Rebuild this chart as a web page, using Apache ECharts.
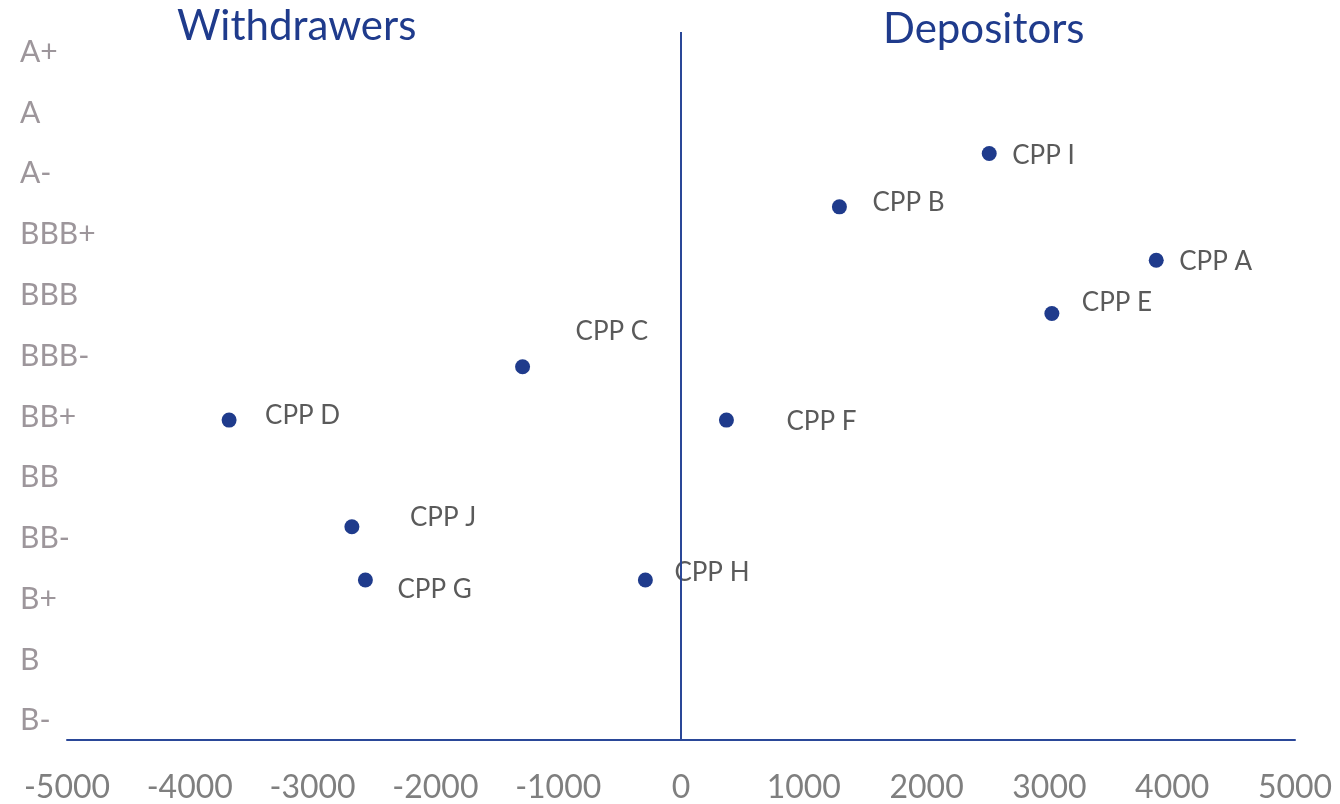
<!DOCTYPE html>
<html>
<head>
<meta charset="utf-8">
<title>Withdrawers vs Depositors</title>
<script src="https://cdn.jsdelivr.net/npm/echarts@6/dist/echarts.min.js"></script>
<style>
  html, body { margin: 0; padding: 0; background: #fff; }
  #chart { width: 1340px; height: 804px; }
</style>
</head>
<body>
<div id="chart"></div>
<script>
// plan names, net flow (x) and credit score (y)
const plans = ['CPP A', 'CPP B', 'CPP C', 'CPP D', 'CPP E', 'CPP F', 'CPP G', 'CPP H', 'CPP I', 'CPP J'];
const netFlow = [3870, 1290, -1290, -3680, 3020, 370, -2570, -290, 2510, -2680];
const creditScore = [9, 10, 7, 6, 8, 6, 3, 3, 11, 4];

// rating labels down the left side, bottom to top
const ratings = ['B-', 'B', 'B+', 'BB-', 'BB', 'BB+', 'BBB-', 'BBB', 'BBB+', 'A-', 'A', 'A+'];
const xTicks = [-5000, -4000, -3000, -2000, -1000, 0, 1000, 2000, 3000, 4000, 5000];

// label nudges (px) copied from the manually placed Excel labels
const labelNudge = [[23, 1], [33, -4], [53, -35], [36, -5], [30, -11], [60, 1], [32, 10], [29, -7], [23, 2], [58, -9]];

const FONT = 'Lato';
const BLUE = '#1f3b8c';
const LINE = '#2a4798';

// rating labels sit a bit off the integer scores in the original
const ratingPos = ratings.map((r, i) => +(0.362 + i * 1.1398).toFixed(3));

const chart = echarts.init(document.getElementById('chart'));

const points = plans.map((name, i) => ({
  name: name,
  value: [netFlow[i], creditScore[i]],
  label: { offset: [labelNudge[i][0] - 7.5, labelNudge[i][1]] }
}));

chart.setOption({
  animation: false,
  backgroundColor: '#fff',
  title: [
    {
      text: 'Withdrawers',
      left: 172,
      top: 0,
      textStyle: { fontFamily: FONT, fontSize: 42, fontWeight: 'normal', color: BLUE }
    },
    {
      text: 'Depositors',
      left: 878,
      top: 3,
      textStyle: { fontFamily: FONT, fontSize: 42, fontWeight: 'normal', color: BLUE }
    }
  ],
  grid: { left: 67, right: 45, top: 32, bottom: 63 },
  xAxis: {
    type: 'value',
    min: xTicks[0],
    max: xTicks[xTicks.length - 1],
    interval: 1000,
    axisLine: { onZero: false, lineStyle: { color: LINE, width: 2 } },
    axisTick: { show: false },
    splitLine: { show: false },
    axisLabel: {
      fontFamily: FONT,
      fontSize: 32,
      color: '#7f7f7f',
      margin: 32,
      showMinLabel: true,
      showMaxLabel: true,
      formatter: function (v) { return String(v); }
    }
  },
  yAxis: {
    type: 'value',
    min: 0,
    max: 13.28,
    axisLine: { show: false },
    axisTick: { show: false },
    splitLine: { show: false },
    axisLabel: {
      customValues: ratingPos,
      align: 'left',
      margin: 47,
      fontFamily: FONT,
      fontSize: 30,
      color: '#9d969b',
      formatter: function (v) {
        const idx = Math.round((v - 0.362) / 1.1398);
        return ratings[idx] || '';
      }
    }
  },
  series: [
    {
      type: 'scatter',
      data: points,
      symbol: 'circle',
      symbolSize: 15,
      itemStyle: { color: BLUE, opacity: 1 },
      label: {
        show: true,
        position: 'right',
        distance: 0,
        formatter: '{b}',
        fontFamily: FONT,
        fontSize: 26,
        color: '#5a5a5a'
      },
      markLine: {
        silent: true,
        symbol: 'none',
        label: { show: false },
        lineStyle: { color: LINE, width: 2, type: 'solid', opacity: 1 },
        emphasis: { disabled: true },
        data: [{ xAxis: 0 }]
      }
    }
  ]
});
</script>
</body>
</html>
